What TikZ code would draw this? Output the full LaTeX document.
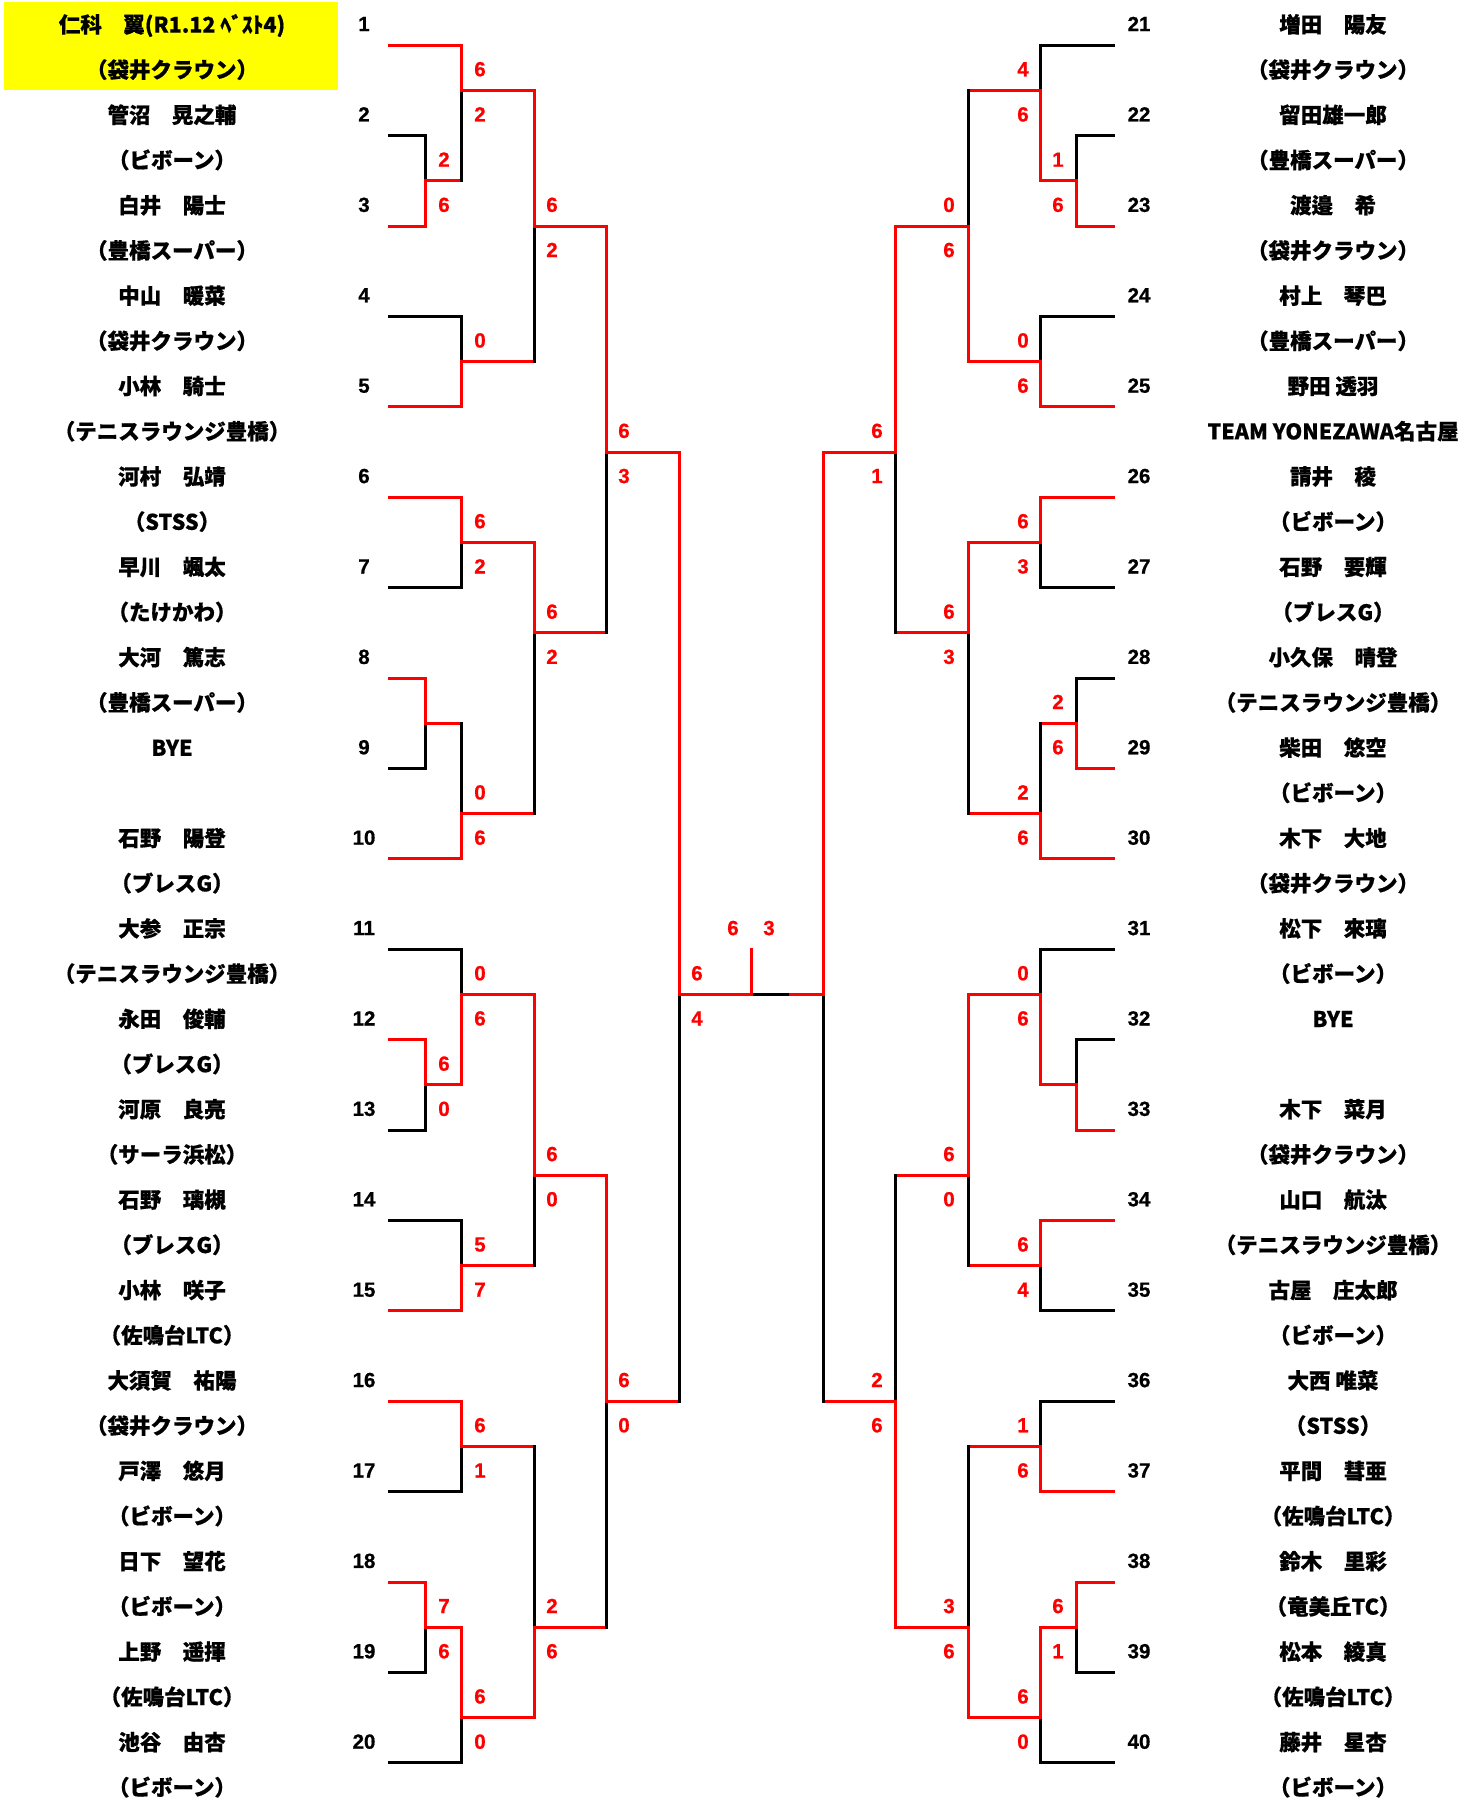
\documentclass[tikz,border=0pt]{standalone}
\usepackage{fontspec}
\newfontfamily\jp{Noto Sans CJK JP}[BoldFeatures={FakeBold=0.6}]
\newfontfamily\ar{Liberation Sans}[BoldFeatures={FakeBold=0.8}]
\definecolor{xred}{RGB}{255,0,0}
\definecolor{xyel}{RGB}{255,255,0}
\begin{document}
\begin{tikzpicture}[x=1pt,y=-1pt,
  declare function={Y(\n)=45.2*\n;},
  win/.style={draw=xred,line width=3pt,line cap=rect},
  lose/.style={draw=black,line width=3pt,line cap=rect},
  nm/.style={anchor=base,inner sep=0pt,font=\jp\bfseries\fontsize{21.5}{22}\selectfont},
  num/.style={anchor=base,inner sep=0pt,font=\ar\bfseries\fontsize{20.5}{20.5}\selectfont},
  score/.style={num,text=xred}]
\useasboundingbox (0,0) rectangle (1479,1798);
\fill[white] (0,0) rectangle (1479,1798);
\fill[xyel] (4,2) rectangle (338,90);

% left names
\foreach \r/\t [count=\i] in {
 1/{仁科　翼(R1.12 ﾍﾞｽﾄ4)}, 2/{（袋井クラウン）}, 3/{管沼　晃之輔}, 4/{（ビボーン）},
 5/{白井　陽士}, 6/{（豊橋スーパー）}, 7/{中山　暖菜}, 8/{（袋井クラウン）},
 9/{小林　騎士}, 10/{（テニスラウンジ豊橋）}, 11/{河村　弘靖}, 12/{（STSS）},
 13/{早川　颯太}, 14/{（たけかわ）}, 15/{大河　篤志}, 16/{（豊橋スーパー）},
 17/{BYE}, 19/{石野　陽登}, 20/{（ブレスG）},
 21/{大参　正宗}, 22/{（テニスラウンジ豊橋）}, 23/{永田　俊輔}, 24/{（ブレスG）},
 25/{河原　良亮}, 26/{（サーラ浜松）}, 27/{石野　璃槻}, 28/{（ブレスG）},
 29/{小林　咲子}, 30/{（佐鳴台LTC）}, 31/{大須賀　祐陽}, 32/{（袋井クラウン）},
 33/{戸澤　悠月}, 34/{（ビボーン）}, 35/{日下　望花}, 36/{（ビボーン）},
 37/{上野　遥揮}, 38/{（佐鳴台LTC）}, 39/{池谷　由杏}, 40/{（ビボーン）}}
  \node[nm] (ln\i) at (172,{Y(\r-0.5)+10}) {\t};

% right names
\foreach \r/\t [count=\i] in {
 1/{増田　陽友}, 2/{（袋井クラウン）}, 3/{留田雄一郎}, 4/{（豊橋スーパー）},
 5/{渡邉　希}, 6/{（袋井クラウン）}, 7/{村上　琴巴}, 8/{（豊橋スーパー）},
 9/{野田 透羽}, 10/{TEAM YONEZAWA名古屋}, 11/{請井　稜}, 12/{（ビボーン）},
 13/{石野　要輝}, 14/{（ブレスG）}, 15/{小久保　晴登}, 16/{（テニスラウンジ豊橋）},
 17/{柴田　悠空}, 18/{（ビボーン）}, 19/{木下　大地}, 20/{（袋井クラウン）},
 21/{松下　來璃}, 22/{（ビボーン）}, 23/{BYE}, 25/{木下　菜月}, 26/{（袋井クラウン）},
 27/{山口　航汰}, 28/{（テニスラウンジ豊橋）}, 29/{古屋　庄太郎}, 30/{（ビボーン）},
 31/{大西 唯菜}, 32/{（STSS）}, 33/{平間　彗亜}, 34/{（佐鳴台LTC）},
 35/{鈴木　里彩}, 36/{（竜美丘TC）}, 37/{松本　綾真}, 38/{（佐鳴台LTC）},
 39/{藤井　星杏}, 40/{（ビボーン）}}
  \node[nm] (rn\i) at (1333,{Y(\r-0.5)+10}) {\t};

% seed numbers
\foreach \k in {1,...,20} {
  \node[num] (lnum\k) at (364,{Y(2*\k-1.5)+8.5}) {\k};
  \pgfmathtruncatemacro\kk{\k+20}
  \node[num] (rnum\kk) at (1139,{Y(2*\k-1.5)+8.5}) {\kk};
}

% left player lines
\foreach \n/\x/\s in {1/461/win, 3/425/lose, 5/425/win, 7/461/lose, 9/461/win,
  11/461/win, 13/461/lose, 15/425/win, 17/425/lose, 19/461/win, 21/461/lose,
  23/425/win, 25/425/lose, 27/461/lose, 29/461/win, 31/461/win, 33/461/lose,
  35/425/win, 37/425/lose, 39/461/lose}
  \draw[\s] (389,{Y(\n)}) -- (\x,{Y(\n)});

% right player lines
\foreach \n/\x/\s in {1/1040/lose, 3/1076/lose, 5/1076/win, 7/1040/lose, 9/1040/win,
  11/1040/win, 13/1040/lose, 15/1076/lose, 17/1076/win, 19/1040/win, 21/1040/lose,
  23/1076/lose, 25/1076/win, 27/1040/win, 29/1040/lose, 31/1040/lose, 33/1040/win,
  35/1076/win, 37/1076/lose, 39/1040/lose}
  \draw[\s] (1113,{Y(\n)}) -- (\x,{Y(\n)});

% matches: vertical x / output x / top / out / bottom / top style / bottom style
\foreach \xv/\xo/\a/\m/\b/\t/\u in {
  425/461/3/4/5/lose/win, 425/461/15/16/17/win/lose, 425/461/23/24/25/win/lose,
  425/461/35/36/37/win/lose,
  461/534/1/2/4/win/lose, 461/534/7/8/9/lose/win, 461/534/11/12/13/win/lose,
  461/534/16/18/19/lose/win, 461/534/21/22/24/lose/win, 461/534/27/28/29/lose/win,
  461/534/31/32/33/win/lose, 461/534/36/38/39/win/lose,
  534/606/2/5/8/win/lose, 534/606/12/14/18/win/lose, 534/606/22/26/28/win/lose,
  534/606/32/36/38/lose/win,
  606/679/5/10/14/win/lose, 606/679/26/31/36/win/lose,
  679/751/10/22/31/win/lose,
  1076/1040/3/4/5/lose/win, 1076/1040/15/16/17/lose/win, 1076/1040/23/24/25/lose/win,
  1076/1040/35/36/37/win/lose,
  1040/968/1/2/4/lose/win, 1040/968/7/8/9/lose/win, 1040/968/11/12/13/win/lose,
  1040/968/16/18/19/lose/win, 1040/968/21/22/24/lose/win, 1040/968/27/28/29/win/lose,
  1040/968/31/32/33/lose/win, 1040/968/36/38/39/win/lose,
  968/895/2/5/8/lose/win, 968/895/12/14/18/win/lose, 968/895/22/26/28/win/lose,
  968/895/32/36/38/lose/win,
  895/823/5/10/14/win/lose, 895/823/26/31/36/lose/win,
  823/787/10/22/31/win/lose} {
  \draw[\t] (\xv,{Y(\a)}) -- (\xv,{Y(\m)});
  \draw[\u] (\xv,{Y(\m)}) -- (\xv,{Y(\b)});
  \draw[win] (\xv,{Y(\m)}) -- (\xo,{Y(\m)});
}
% final
\draw[lose] (751,{Y(22)}) -- (787,{Y(22)});
\draw[win] (751,{Y(21)}) -- (751,{Y(22)});

% scores
\foreach \x/\n/\v [count=\i] in {
  444/3.5/2, 444/4.5/6, 444/23.5/6, 444/24.5/0, 444/35.5/7, 444/36.5/6,
  480/1.5/6, 480/2.5/2, 480/7.5/0, 480/11.5/6, 480/12.5/2, 480/17.5/0, 480/18.5/6,
  480/21.5/0, 480/22.5/6, 480/27.5/5, 480/28.5/7, 480/31.5/6, 480/32.5/1,
  480/37.5/6, 480/38.5/0,
  552/4.5/6, 552/5.5/2, 552/13.5/6, 552/14.5/2, 552/25.5/6, 552/26.5/0,
  552/35.5/2, 552/36.5/6,
  624/9.5/6, 624/10.5/3, 624/30.5/6, 624/31.5/0,
  697/21.5/6, 697/22.5/4, 733/20.5/6, 769/20.5/3,
  1058/3.5/1, 1058/4.5/6, 1058/15.5/2, 1058/16.5/6, 1058/35.5/6, 1058/36.5/1,
  1023/1.5/4, 1023/2.5/6, 1023/7.5/0, 1023/8.5/6, 1023/11.5/6, 1023/12.5/3,
  1023/17.5/2, 1023/18.5/6, 1023/21.5/0, 1023/22.5/6, 1023/27.5/6, 1023/28.5/4,
  1023/31.5/1, 1023/32.5/6, 1023/37.5/6, 1023/38.5/0,
  949/4.5/0, 949/5.5/6, 949/13.5/6, 949/14.5/3, 949/25.5/6, 949/26.5/0,
  949/35.5/3, 949/36.5/6,
  877/9.5/6, 877/10.5/1, 877/30.5/2, 877/31.5/6}
  \node[score] (sc\i) at (\x,{Y(\n)+8.5}) {\v};
\end{tikzpicture}
\end{document}
